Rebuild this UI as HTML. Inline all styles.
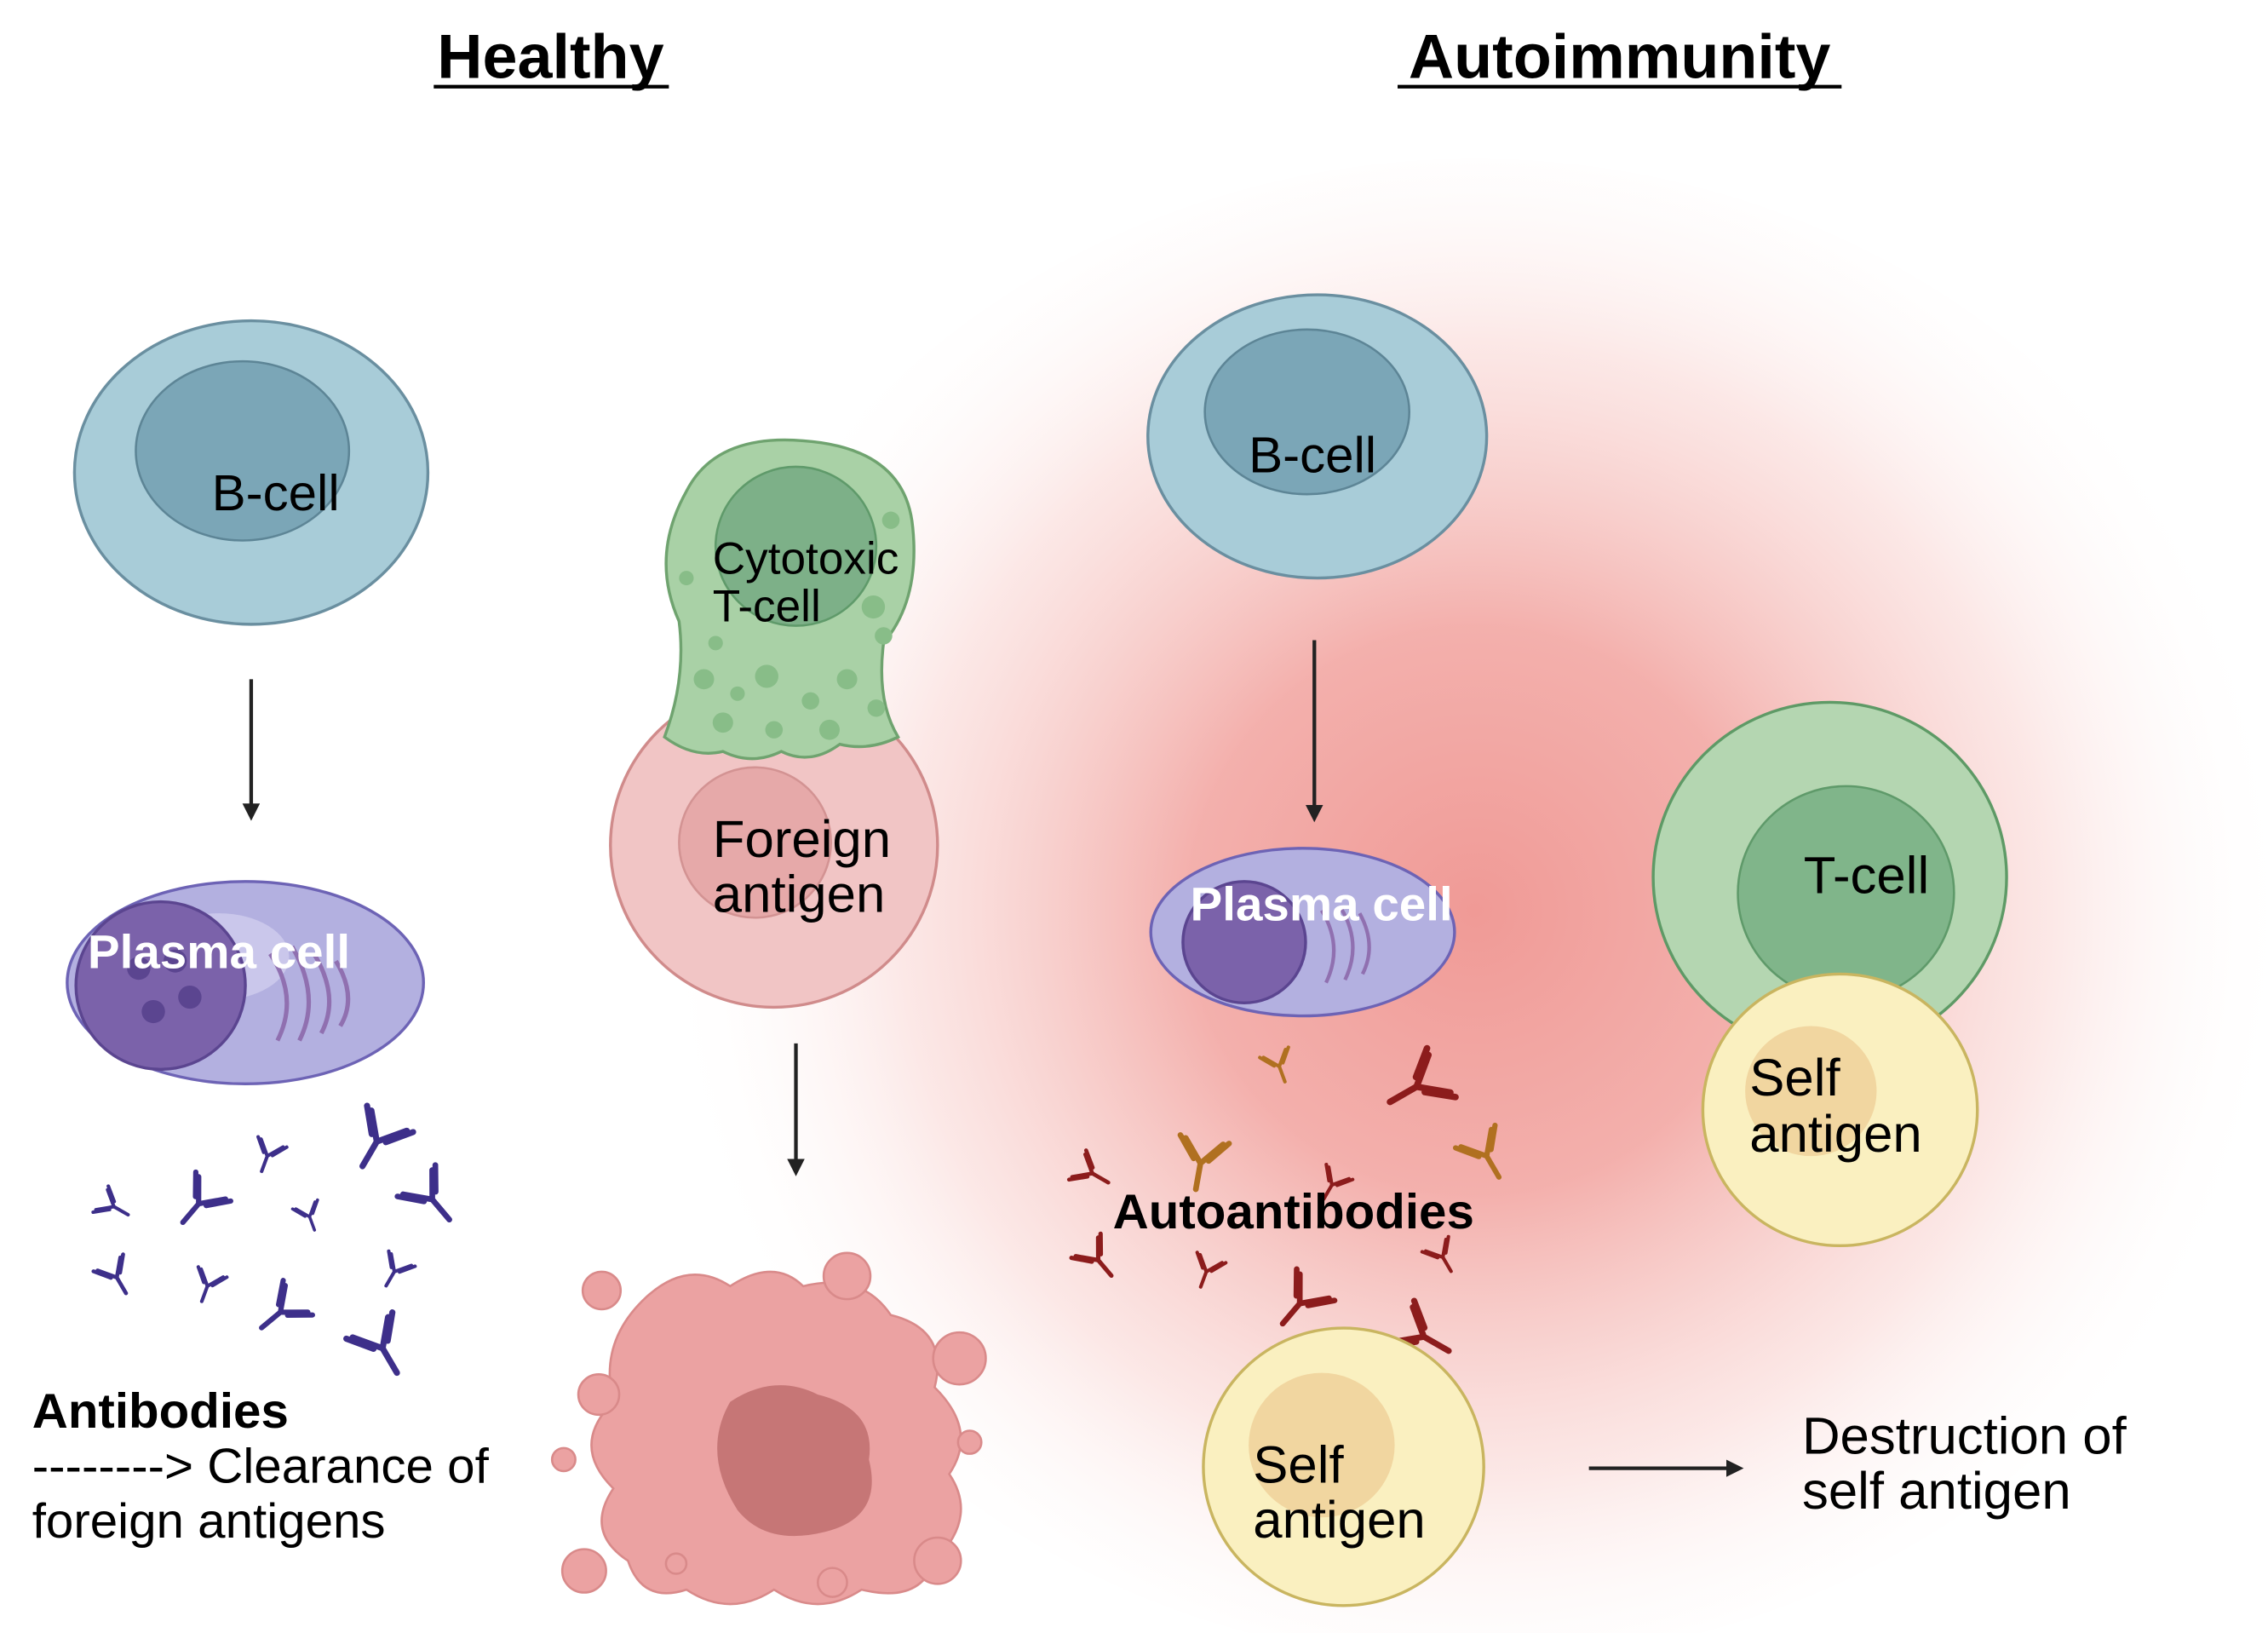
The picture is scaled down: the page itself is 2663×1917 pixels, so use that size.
<!DOCTYPE html>
<html><head><meta charset="utf-8"><style>
html,body{margin:0;padding:0;background:#fff;}
svg{display:block;}
text{font-family:"Liberation Sans",sans-serif;}
</style></head><body>
<svg width="2663" height="1917" viewBox="0 0 1553 1130" preserveAspectRatio="none" xmlns="http://www.w3.org/2000/svg">
<defs>
<radialGradient id="glow" cx="1010" cy="630" r="560" gradientUnits="userSpaceOnUse">
<stop offset="0" stop-color="#f09a96" stop-opacity="1"/>
<stop offset="0.35" stop-color="#f2a7a3" stop-opacity="0.9"/>
<stop offset="0.7" stop-color="#f8d0cd" stop-opacity="0.5"/>
<stop offset="1" stop-color="#ffffff" stop-opacity="0"/>
</radialGradient>
<marker id="ah" markerWidth="12" markerHeight="12" refX="6" refY="6" orient="auto" markerUnits="userSpaceOnUse" viewBox="0 0 12 12">
<path d="M0,0 L12,6 L0,12 z" fill="#222"/></marker>
<g id="ab"><path d="M0,0 L0,14 M0,0 L-10,-12 M0,0 L10,-12 M-4,-2 L-13,-13 M4,-2 L13,-13" stroke-width="3" fill="none" stroke-linecap="round"/></g>
</defs>
<rect width="1553" height="1130" fill="#fff"/>
<ellipse cx="1010" cy="630" rx="560" ry="520" fill="url(#glow)"/>

<text x="377" y="54" font-size="43" font-weight="bold" text-anchor="middle">Healthy</text>
<line x1="297" y1="60" x2="458" y2="60" stroke="#000" stroke-width="2.5"/>
<text x="1109" y="54" font-size="43" font-weight="bold" text-anchor="middle">Autoimmunity</text>
<line x1="957" y1="60" x2="1261" y2="60" stroke="#000" stroke-width="2.5"/>

<!-- left B-cell -->
<ellipse cx="172" cy="327" rx="121" ry="105" fill="#a8ccd8" stroke="#6a8fa0" stroke-width="2"/>
<ellipse cx="166" cy="312" rx="73" ry="62" fill="#7ba6b7" stroke="#5d8596" stroke-width="1.5"/>
<text x="145" y="353" font-size="35">B-cell</text>
<line x1="172" y1="470" x2="172" y2="562" stroke="#222" stroke-width="2.5" marker-end="url(#ah)"/>

<!-- left plasma -->
<ellipse cx="168" cy="680" rx="122" ry="70" fill="#b3b0e0" stroke="#6d63b5" stroke-width="2"/>
<ellipse cx="150" cy="662" rx="48" ry="30" fill="#cfcdee" opacity="0.8"/>
<circle cx="110" cy="682" r="58" fill="#7b62aa" stroke="#5b4590" stroke-width="2"/>
<g fill="#5b4590"><circle cx="95" cy="670" r="8"/><circle cx="120" cy="665" r="8"/><circle cx="130" cy="690" r="8"/><circle cx="105" cy="700" r="8"/></g>
<g fill="none" stroke="#9070b0" stroke-width="3"><path d="M185,660 q20,30 5,60"/><path d="M200,655 q20,35 5,65"/><path d="M215,660 q18,30 5,55"/><path d="M230,665 q15,25 3,45"/></g>
<text x="60" y="670" font-size="33" font-weight="bold" fill="#fff">Plasma cell</text>

<!-- antibodies left -->
<g stroke="#3d2f8a">
<use href="#ab" transform="translate(258,790) rotate(30) scale(1.4)"/>
<use href="#ab" transform="translate(183,800) rotate(20) scale(0.8)"/>
<use href="#ab" transform="translate(136,833) rotate(40) scale(1.2)"/>
<use href="#ab" transform="translate(78,835) rotate(-60) scale(0.8)"/>
<use href="#ab" transform="translate(212,842) rotate(-20) scale(0.7)"/>
<use href="#ab" transform="translate(296,830) rotate(-40) scale(1.3)"/>
<use href="#ab" transform="translate(80,884) rotate(-30) scale(0.9)"/>
<use href="#ab" transform="translate(142,890) rotate(20) scale(0.8)"/>
<use href="#ab" transform="translate(192,908) rotate(50) scale(1.2)"/>
<use href="#ab" transform="translate(270,880) rotate(30) scale(0.8)"/>
<use href="#ab" transform="translate(262,933) rotate(-30) scale(1.4)"/>
</g>
<text x="22" y="988" font-size="34" font-weight="bold">Antibodies</text>
<text x="22" y="1026" font-size="34">--------&gt; Clearance of</text>
<text x="22" y="1064" font-size="34">foreign antigens</text>

<!-- foreign antigen -->
<circle cx="530" cy="585" r="112" fill="#f1c5c5" stroke="#d08b8b" stroke-width="2"/>
<circle cx="517" cy="583" r="52" fill="#e6a9a9" stroke="#d39393" stroke-width="1.5"/>
<!-- cytotoxic T -->
<path d="M470,340 q20,-40 80,-35 q70,5 75,60 q5,50 -20,80 q-5,40 10,65 q-20,10 -40,5 q-20,15 -40,5 q-20,10 -40,0 q-20,5 -40,-10 q15,-40 10,-80 q-20,-45 5,-90 z" fill="#a9d1a6" stroke="#6fa36f" stroke-width="2"/>
<circle cx="545" cy="378" r="55" fill="#7db088" stroke="#5f9a6a" stroke-width="1.5"/>
<g fill="#88bd88"><circle cx="482" cy="470" r="7"/><circle cx="505" cy="480" r="5"/><circle cx="525" cy="468" r="8"/><circle cx="555" cy="485" r="6"/><circle cx="580" cy="470" r="7"/><circle cx="600" cy="490" r="6"/><circle cx="495" cy="500" r="7"/><circle cx="530" cy="505" r="6"/><circle cx="568" cy="505" r="7"/><circle cx="605" cy="440" r="6"/><circle cx="490" cy="445" r="5"/><circle cx="610" cy="360" r="6"/><circle cx="598" cy="420" r="8"/><circle cx="470" cy="400" r="5"/></g>
<text x="488" y="397" font-size="31">Cytotoxic</text>
<text x="488" y="430" font-size="31">T-cell</text>
<text x="488" y="593" font-size="36">Foreign</text>
<text x="488" y="631" font-size="36">antigen</text>
<line x1="545" y1="722" x2="545" y2="808" stroke="#222" stroke-width="2.5" marker-end="url(#ah)"/>

<!-- debris -->
<path d="M440,900 q30,-30 60,-10 q30,-20 50,0 q40,-10 60,20 q40,10 30,50 q30,30 10,60 q20,30 -10,60 q-10,30 -50,20 q-30,20 -60,0 q-30,20 -60,0 q-30,10 -40,-20 q-30,-20 -10,-50 q-30,-30 0,-60 q-10,-40 20,-70 z" fill="#eba2a2" stroke="#d98a8a" stroke-width="1.5"/>
<path d="M500,970 q30,-20 60,-5 q40,10 35,45 q10,40 -30,50 q-40,10 -60,-15 q-25,-40 -5,-75 z" fill="#c67676"/>
<g fill="#eba2a2" stroke="#d98a8a" stroke-width="1.5"><circle cx="412" cy="893" r="13"/><circle cx="580" cy="883" r="16"/><circle cx="657" cy="940" r="18"/><circle cx="410" cy="965" r="14"/><circle cx="386" cy="1010" r="8"/><circle cx="664" cy="998" r="8"/><circle cx="400" cy="1087" r="15"/><circle cx="463" cy="1082" r="7"/><circle cx="642" cy="1080" r="16"/><circle cx="570" cy="1095" r="10"/></g>

<!-- right B-cell -->
<ellipse cx="902" cy="302" rx="116" ry="98" fill="#a8ccd8" stroke="#6a8fa0" stroke-width="2"/>
<ellipse cx="895" cy="285" rx="70" ry="57" fill="#7ba6b7" stroke="#5d8596" stroke-width="1.5"/>
<text x="855" y="327" font-size="35">B-cell</text>
<line x1="900" y1="443" x2="900" y2="563" stroke="#222" stroke-width="2.5" marker-end="url(#ah)"/>

<!-- right plasma -->
<ellipse cx="892" cy="645" rx="104" ry="58" fill="#b3b0e0" stroke="#6d63b5" stroke-width="2"/>
<circle cx="852" cy="652" r="42" fill="#7b62aa" stroke="#5b4590" stroke-width="2"/>
<g fill="none" stroke="#9070b0" stroke-width="2.5"><path d="M905,630 q15,25 3,50"/><path d="M918,628 q15,25 3,50"/><path d="M931,632 q12,22 2,42"/></g>
<text x="815" y="637" font-size="33" font-weight="bold" fill="#fff">Plasma cell</text>

<!-- T-cell right -->
<circle cx="1253" cy="607" r="121" fill="#b4d6b1" stroke="#5e9a66" stroke-width="2"/>
<circle cx="1264" cy="618" r="74" fill="#80b58a" stroke="#5f9a6a" stroke-width="1.5"/>
<text x="1235" y="618" font-size="36">T-cell</text>
<circle cx="1260" cy="768" r="94" fill="#faf0c0" stroke="#c9b560" stroke-width="2"/>
<circle cx="1240" cy="755" r="45" fill="#f1d6a0"/>
<text x="1198" y="758" font-size="36">Self</text>
<text x="1198" y="797" font-size="36">antigen</text>

<!-- autoantibodies -->
<g stroke="#b07020"><use href="#ab" transform="translate(876,738) rotate(-20) scale(0.8)"/><use href="#ab" transform="translate(822,805) rotate(10) scale(1.3)"/><use href="#ab" transform="translate(1018,800) rotate(-30) scale(1.2)"/></g>
<g stroke="#8c1c1c"><use href="#ab" transform="translate(970,752) rotate(60) scale(1.5)"/><use href="#ab" transform="translate(748,812) rotate(-60) scale(0.9)"/><use href="#ab" transform="translate(912,820) rotate(30) scale(0.8)"/><use href="#ab" transform="translate(752,872) rotate(-40) scale(1)"/><use href="#ab" transform="translate(826,880) rotate(20) scale(0.8)"/><use href="#ab" transform="translate(988,870) rotate(-30) scale(0.8)"/><use href="#ab" transform="translate(890,902) rotate(40) scale(1.3)"/><use href="#ab" transform="translate(975,925) rotate(-60) scale(1.4)"/></g>
<text x="762" y="850" font-size="34" font-weight="bold">Autoantibodies</text>

<circle cx="920" cy="1015" r="96" fill="#faf0c0" stroke="#c9b560" stroke-width="2"/>
<circle cx="905" cy="1000" r="50" fill="#f1d6a0"/>
<text x="858" y="1026" font-size="36">Self</text>
<text x="858" y="1064" font-size="36">antigen</text>
<line x1="1088" y1="1016" x2="1188" y2="1016" stroke="#222" stroke-width="2.5" marker-end="url(#ah)"/>
<text x="1234" y="1006" font-size="36">Destruction of</text>
<text x="1234" y="1044" font-size="36">self antigen</text>
</svg>
</body></html>
